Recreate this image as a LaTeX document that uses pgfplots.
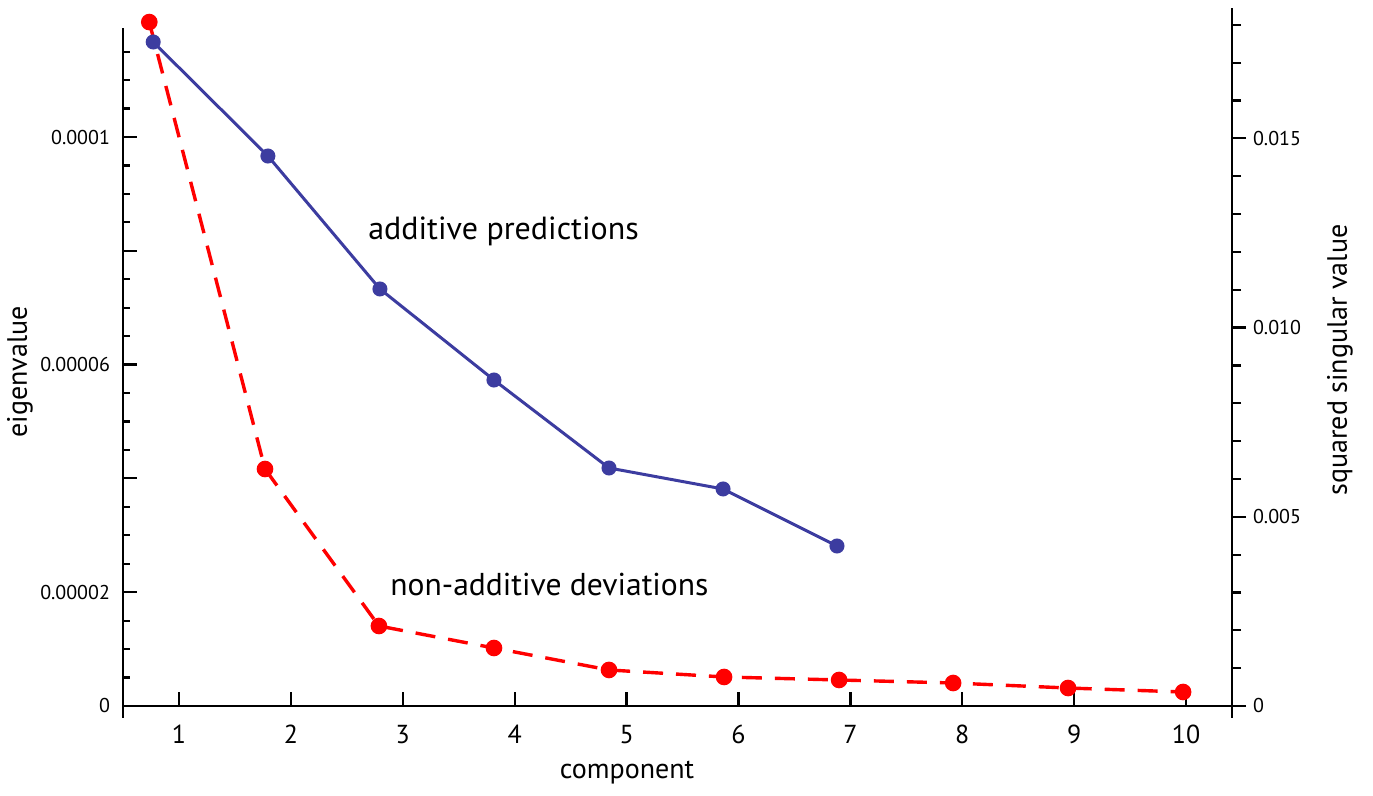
\documentclass[border=0pt]{standalone}
\usepackage{pgfplots}
\pgfplotsset{compat=1.18}
\usepackage{fontspec}
\setmainfont{PT Sans}
\definecolor{bl}{RGB}{60,60,160}
\definecolor{rd}{RGB}{255,0,0}
\begin{document}
\begin{tikzpicture}
\useasboundingbox (-61.5pt,-45pt) rectangle (625pt,353pt);
\begin{axis}[
  at={(0,0)}, anchor=south west,
  scale only axis, width=554.5pt, height=339pt,
  xmin=0.5, xmax=10.41, ymin=0, ymax=1.1916e-4,
  axis x line=bottom, axis y line=left,
  axis line style={-, line width=1.2pt, black},
  x axis line style={shorten >=-4pt},
  y axis line style={shorten <=-6pt},
  xtick={1,2,3,4,5,6,7,8,9,10},
  ytick={0,2e-5,4e-5,6e-5,8e-5,1e-4},
  yticklabels={0,0.00002,,0.00006,,0.0001},
  minor ytick={5e-6,1e-5,1.5e-5,2.5e-5,3e-5,3.5e-5,4.5e-5,5e-5,5.5e-5,6.5e-5,7e-5,7.5e-5,8.5e-5,9e-5,9.5e-5,1.05e-4,1.1e-4,1.15e-4},
  scaled y ticks=false,
  tick align=inside,
  major tick length=7pt, minor tick length=3.5pt,
  every tick/.style={black, line width=1.1pt},
  /pgf/number format/assume math mode=true,
  yticklabel style={font=\fontsize{10}{12}\selectfont, xshift=-3pt},
  xticklabel style={font=\fontsize{13}{15}\selectfont, yshift=-6pt},
  xlabel={component}, ylabel={eigenvalue},
  every axis x label/.style={at={(axis description cs:0.4545,-0.0988)},anchor=center,font=\fontsize{14}{16}\selectfont},
  every axis y label/.style={at={(axis description cs:-0.0929,0.4926)},anchor=center,rotate=90,font=\fontsize{14}{16}\selectfont},
  clip=false,
]
\addplot[color=rd, line width=1.7pt, dash pattern=on 10pt off 6.5pt, mark=*, mark size=3.3pt, mark options={solid}]
  coordinates {(0.735,1.202e-4) (1.769,4.165e-5) (2.787,1.406e-5) (3.815,1.019e-5) (4.843,6.33e-6) (5.871,5.10e-6) (6.899,4.57e-6) (7.918,4.04e-6) (8.945,3.16e-6) (9.973,2.46e-6)};
\addplot[color=bl, line width=1.5pt, mark=*, mark size=3pt, mark options={solid}]
  coordinates {(0.770,1.167e-4) (1.795,9.666e-5) (2.796,7.329e-5) (3.815,5.729e-5) (4.843,4.183e-5) (5.862,3.814e-5) (6.880,2.812e-5)};
\node[anchor=base west, font=\fontsize{16}{19}\selectfont, inner sep=0pt] at (axis cs:2.689,8.19e-5) {additive predictions};
\node[anchor=base west, font=\fontsize{15.8}{19}\selectfont, inner sep=0pt] at (axis cs:2.886,1.95e-5) {non-additive deviations};
\end{axis}
\begin{axis}[
  at={(0,0)}, anchor=south west,
  scale only axis, width=554.5pt, height=349pt,
  xmin=0.5, xmax=10.41, ymin=0, ymax=0.018446,
  axis x line=none, axis y line=right,
  axis line style={-, line width=1.2pt, black},
  y axis line style={shorten <=-6pt},
  ytick={0,0.005,0.01,0.015},
  yticklabels={0,0.005,0.010,0.015},
  minor ytick={0.001,0.002,0.003,0.004,0.006,0.007,0.008,0.009,0.011,0.012,0.013,0.014,0.016,0.017,0.018},
  scaled y ticks=false,
  tick align=outside,
  major tick length=7pt, minor tick length=4.5pt,
  every tick/.style={black, line width=1.1pt},
  /pgf/number format/assume math mode=true,
  yticklabel style={font=\fontsize{10}{12}\selectfont},
  ylabel={squared singular value},
  every axis y label/.style={at={(axis description cs:1.0974,0.4957)},anchor=center,rotate=90,font=\fontsize{14}{16}\selectfont},
  clip=false,
]
\addplot[draw=none] coordinates {(1,0.001)};
\end{axis}
\end{tikzpicture}
\end{document}
